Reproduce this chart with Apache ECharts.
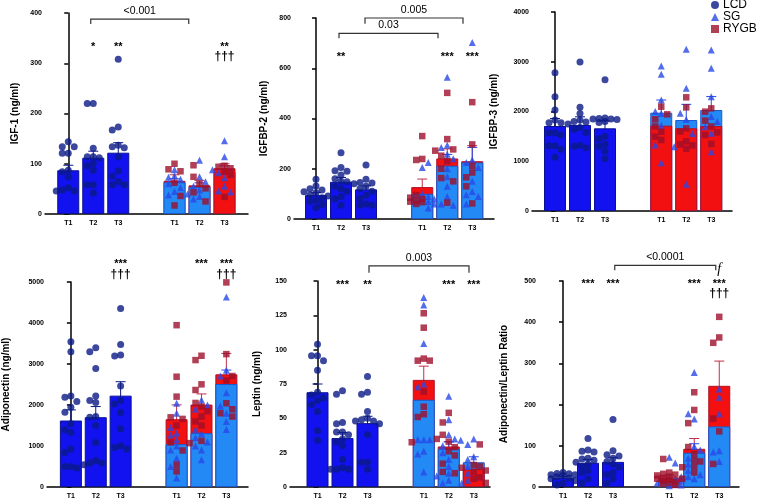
<!DOCTYPE html>
<html>
<head>
<meta charset="utf-8">
<script src="https://cdn.jsdelivr.net/npm/echarts@6/dist/echarts.min.js"></script>
<style>
  html, body { margin: 0; background: #fff; }
  #chart { width: 760px; height: 500px; }
</style>
</head>
<body>
<div id="chart"></div>
<script>
// Column positions on each panel's x value axis: LCD T1-T3, gap, SG/RYGB T1-T3
const xPos = [0, 1, 2, 4.25, 5.25, 6.25];
const xLabels = ['T1', 'T2', 'T3', 'T1', 'T2', 'T3'];

// ---- IGF-1 ----
const igf1LcdMean = [87, 112, 122];
const igf1LcdSem = [10, 13, 20];
const igf1SgMean = [63, 54, 84];
const igf1SgSem = [7, 8, 12];
const igf1RygbMean = [66, 57, 91];
const igf1RygbSem = [12, 10, 9];
const igf1LcdPts = [
  [144, 134, 134, 121, 121, 87, 84, 74, 52, 48, 46, 46],
  [220, 220, 131, 114, 114, 112, 101, 96, 87, 58, 58, 42],
  [308, 173, 167, 137, 134, 132, 114, 86, 75, 64, 58, 58],
];
const igf1SgPts = [[88, 76, 73, 69, 60, 52, 45, 38], [107, 74, 64, 55, 48, 40, 35, 30], [146, 114, 88, 82, 72, 55, 46, 44]];
const igf1RygbPts = [[100, 89, 85, 62, 36, 17], [97, 74, 60, 51, 43, 25], [96, 94, 91, 84, 78, 34]];

// ---- IGFBP-2 ----
const bp2LcdMean = [95, 148, 118];
const bp2LcdSem = [10, 17, 14];
const bp2SgMean = [100, 212, 225];
const bp2SgSem = [18, 45, 60];
const bp2RygbMean = [127, 241, 230];
const bp2RygbSem = [32, 38, 62];
const bp2LcdPts = [
  [158, 131, 120, 115, 108, 104, 96, 92, 85, 75, 70, 58, 45],
  [264, 205, 192, 190, 175, 160, 150, 148, 130, 120, 110, 90, 80, 55],
  [215, 158, 145, 143, 140, 130, 120, 110, 95, 82, 60, 55, 55],
];
const bp2SgPts = [[225, 205, 100, 90, 80, 70, 60, 44], [564, 294, 285, 258, 240, 200, 168, 130, 89, 60, 55], [702, 235, 225, 205, 150, 109, 97, 90, 60]];
const bp2RygbPts = [[330, 239, 235, 95, 85, 80, 72, 69, 67, 60], [502, 318, 277, 272, 252, 230, 200, 163, 150, 65], [465, 297, 211, 185, 166, 130, 62]];

// ---- IGFBP-3 ----
const bp3LcdMean = [1708, 1728, 1662];
const bp3LcdSem = [150, 165, 150];
const bp3SgMean = [1976, 1829, 2030];
const bp3SgSem = [255, 315, 270];
const bp3RygbMean = [1715, 1662, 1708];
const bp3RygbSem = [140, 150, 140];
const bp3LcdPts = [
  [2780, 2298, 2030, 1829, 1775, 1775, 1575, 1575, 1528, 1313, 1313, 1240, 1079],
  [2995, 2083, 1960, 1830, 1800, 1790, 1750, 1680, 1640, 1580, 1320, 1300, 1270],
  [2640, 1870, 1860, 1850, 1850, 1840, 1800, 1780, 1500, 1450, 1340, 1300, 1200, 1050],
];
const bp3SgPts = [[2915, 2747, 2231, 2000, 1960, 1720, 1327, 971], [3250, 2466, 1963, 1840, 1560, 1293, 536], [3235, 2867, 2298, 1900, 1800, 1695, 1561, 1193]];
const bp3RygbPts = [[2097, 1943, 1843, 1700, 1594, 1494, 1427], [2285, 2083, 1662, 1600, 1400, 1340, 1320, 1250], [2063, 1997, 1816, 1700, 1581, 1528, 1347]];

// ---- Adiponectin ----
const adipoLcdMean = [1621, 1702, 2228];
const adipoLcdSem = [260, 260, 340];
const adipoSgMean = [1045, 1313, 2512];
const adipoSgSem = [170, 150, 340];
const adipoRygbMean = [1653, 2010, 2748];
const adipoRygbSem = [350, 260, 510];
const adipoLcdPts = [
  [3541, 3298, 2220, 2188, 2083, 1945, 1823, 1540, 1394, 1329, 924, 843, 502, 502, 462],
  [3395, 3298, 2893, 2220, 2107, 2058, 1718, 1700, 1499, 1086, 648, 583, 583, 543],
  [4352, 3476, 3217, 3193, 2464, 2107, 2026, 1815, 1418, 1005, 964, 924],
];
const adipoSgPts = [[2042, 1800, 1450, 1313, 1270, 1150, 1000, 900, 700, 500, 219], [2123, 2000, 1900, 1394, 1300, 1200, 1100, 1000, 900, 664], [4635, 2850, 2707, 2301, 1977, 1800, 1600, 1400]];
const adipoRygbPts = [[3947, 2690, 2204, 1700, 1661, 1499, 1086, 891, 543, 381], [3201, 3096, 2504, 2366, 2050, 1961, 1850, 1718, 1600, 1499, 1126, 1070], [4990, 3241, 2707, 2600, 2042, 1896, 1799, 1718]];

// ---- Leptin ----
const leptLcdMean = [69, 35.6, 46.5];
const leptLcdSem = [6, 4, 5];
const leptSgMean = [63.5, 27.8, 18];
const leptSgSem = [13, 5, 4];
const leptRygbMean = [78, 29.5, 13];
const leptRygbSem = [10, 3.5, 2.5];
const leptLcdPts = [
  [104, 95.5, 95.5, 92, 85, 69, 67, 65, 63, 60, 55, 41, 34],
  [70, 67.5, 47, 46, 40, 40, 38, 35, 33, 30, 20, 14, 13, 13, 13],
  [80.5, 69, 67.5, 55, 50, 49, 48, 48, 46, 38, 18, 18, 13],
];
const leptSgPts = [[138, 132.5, 104.5, 75, 73, 34.4, 34.4, 34.4, 26, 24, 11], [66, 49, 38, 35, 34, 30, 25, 20, 15, 10, 8, 5, 3], [35, 31, 22, 20, 15, 10, 5, 3]];
const leptRygbPts = [[126.5, 116, 93.5, 92, 92, 69.5, 58.5, 53, 51, 32.6], [54, 47, 38, 35, 33, 29, 26, 23, 17, 11, 10], [31, 16, 15, 14, 12, 11, 7, 6, 3]];

// ---- Adiponectin/Leptin ratio ----
const ratioLcdMean = [22.5, 58.8, 61];
const ratioLcdSem = [3, 8, 10];
const ratioSgMean = [12, 83, 147];
const ratioSgSem = [6, 22, 30];
const ratioRygbMean = [22.6, 92.7, 245.6];
const ratioRygbSem = [6, 25, 60];
const ratioLcdPts = [
  [35, 33, 32, 30, 30, 28, 25, 22, 20, 15, 10, 5],
  [118, 90, 87, 85, 70, 68, 65, 60, 55, 50, 40, 35, 20, 10],
  [164, 88, 78, 75, 70, 62, 55, 48, 35, 30, 20, 10],
];
const ratioSgPts = [[72, 58, 25, 20, 15, 10, 5, 3], [278, 178, 165, 98, 90, 70, 55, 40, 30, 25, 20], [238, 218, 178, 88, 85, 62]];
const ratioRygbPts = [[68, 35, 32, 30, 28, 25, 22, 20, 18, 15, 12, 10, 8, 5], [230, 187, 155, 97, 80, 65, 62, 50, 48, 35, 20], [413, 363, 350, 166, 135, 56]];

// significance marks: [x, y, text]; brackets: [x1, x2, y, drop, text]
const igf1Stars = [[1, 338, '*'], [2, 338, '**'], [6.25, 338, '**'], [6.25, 314, '†††']];
const igf1Brackets = [[0.9, 4.82, 388, 10, '<0.001']];
const bp2Stars = [[1, 655, '**'], [5.25, 655, '***'], [6.25, 655, '***']];
const bp2Brackets = [[0.92, 4.88, 739, 20, '0.03'], [1.96, 5.88, 800, 23, '0.005']];
const adipoStars = [[2, 5503, '***'], [2, 5187, '†††'], [5.25, 5503, '***'], [6.25, 5503, '***'], [6.25, 5187, '†††']];
const leptStars = [[1, 149.5, '***'], [2, 149.5, '**'], [5.25, 149.5, '***'], [6.25, 149.5, '***']];
const leptBrackets = [[2.06, 6.06, 161, 5, '0.003']];
const ratioStars = [[1, 500, '***'], [2, 500, '***'], [5.25, 500, '***'], [6.25, 500, '***'], [6.25, 470, '†††'], [6.25, 528, 'f']];
const ratioBrackets = [[2.07, 6.11, 538, 12, '<0.0001']];

const FONT = '"Liberation Sans", Arial, sans-serif';
const C = {
  lcdBar: '#1212f0', lcdEdge: '#0a1290', lcdPt: '#0b1a86', lcdErr: '#0b1a86',
  sgBar: '#2389f5', sgEdge: '#1a5ad0', sgPt: '#2848e6', sgErr: '#2848e6',
  rygbBar: '#f21010', rygbEdge: '#b0102a', rygbPt: '#9e0f2b', rygbErr: '#c0304a',
};
const PX_PER_COL = 25;

// grid: [left, top, width, height]
const PANELS = [
  { name: 'IGF-1 (ng/ml)', max: 400, step: 100, grid: [45, 13, 203, 201], xMin: -0.93, nameGap: 25,
    lcd: [igf1LcdMean, igf1LcdSem, igf1LcdPts], sg: [igf1SgMean, igf1SgSem, igf1SgPts], rygb: [igf1RygbMean, igf1RygbSem, igf1RygbPts],
    front: ['sg', 'sg', 'rygb'], stars: igf1Stars, brackets: igf1Brackets },
  { name: 'IGFBP-2 (ng/ml)', max: 800, step: 200, grid: [294, 18, 200, 201], xMin: -0.88, nameGap: 25,
    lcd: [bp2LcdMean, bp2LcdSem, bp2LcdPts], sg: [bp2SgMean, bp2SgSem, bp2SgPts], rygb: [bp2RygbMean, bp2RygbSem, bp2RygbPts],
    front: ['sg', 'sg', 'sg'], stars: bp2Stars, brackets: bp2Brackets },
  { name: 'IGFBP-3 (ng/ml)', max: 4000, step: 1000, grid: [532, 12, 200, 199], xMin: -0.92, nameGap: 33,
    lcd: [bp3LcdMean, bp3LcdSem, bp3LcdPts], sg: [bp3SgMean, bp3SgSem, bp3SgPts], rygb: [bp3RygbMean, bp3RygbSem, bp3RygbPts],
    front: ['rygb', 'rygb', 'rygb'], stars: [], brackets: [] },
  { name: 'Adiponectin (ng/ml)', max: 5000, step: 1000, grid: [46, 282, 202, 205], xMin: -0.96, nameGap: 36,
    lcd: [adipoLcdMean, adipoLcdSem, adipoLcdPts], sg: [adipoSgMean, adipoSgSem, adipoSgPts], rygb: [adipoRygbMean, adipoRygbSem, adipoRygbPts],
    front: ['sg', 'sg', 'sg'], stars: adipoStars, brackets: [] },
  { name: 'Leptin (ng/ml)', max: 150, step: 25, grid: [290, 281, 200, 206], xMin: -1.1, nameGap: 28,
    lcd: [leptLcdMean, leptLcdSem, leptLcdPts], sg: [leptSgMean, leptSgSem, leptSgPts], rygb: [leptRygbMean, leptRygbSem, leptRygbPts],
    front: ['sg', 'sg', 'rygb'], stars: leptStars, brackets: leptBrackets },
  { name: 'Adiponectin/Leptin Ratio', max: 500, step: 100, grid: [539, 281, 200, 207], xMin: -0.96, nameGap: 30,
    lcd: [ratioLcdMean, ratioLcdSem, ratioLcdPts], sg: [ratioSgMean, ratioSgSem, ratioSgPts], rygb: [ratioRygbMean, ratioRygbSem, ratioRygbPts],
    front: ['sg', 'sg', 'sg'], stars: ratioStars, brackets: ratioBrackets },
];

// spread overlapping dots sideways (GraphPad-like), returns px offsets
function swarm(values, pxPerY, step) {
  const off = values.map(() => 0);
  const placed = [];
  const order = values.map((v, i) => i).sort((a, b) => values[b] - values[a]);
  const cands = [0, -1, 1, -2, 2];
  order.forEach((i) => {
    const y = values[i] * pxPerY;
    let best = 0, bestD = -1;
    for (const c of cands) {
      const x = c * step;
      let dmin = Infinity;
      placed.forEach((p) => { dmin = Math.min(dmin, Math.hypot(p[0] - x, p[1] - y)); });
      if (dmin >= step) { best = x; break; }
      if (dmin > bestD) { bestD = dmin; best = x; }
    }
    off[i] = best;
    placed.push([best, y]);
  });
  return off;
}

const option = {
  animation: false,
  textStyle: { fontFamily: FONT },
  legend: {
    orient: 'vertical', left: 711, top: -1, padding: 0, itemGap: 0,
    itemWidth: 8, itemHeight: 8,
    textStyle: { fontSize: 12, color: '#000', fontFamily: FONT, padding: [0, 0, 0, -1], lineHeight: 11 },
    data: [{ name: 'LCD', icon: 'circle' }, { name: 'SG', icon: 'triangle' }, { name: 'RYGB', icon: 'rect' }],
    selectedMode: false,
  },
  grid: [], xAxis: [], yAxis: [], series: [],
};

PANELS.forEach((P, i) => {
  const [gl, gt, gw, gh] = P.grid;
  const xMax = P.xMin + gw / PX_PER_COL;
  const pxPerY = gh / P.max;
  option.grid.push({ left: gl, top: gt, width: gw, height: gh });
  option.xAxis.push({
    gridIndex: i, type: 'value', min: P.xMin, max: xMax,
    axisLine: { show: true, onZero: false, lineStyle: { color: '#000', width: 1.5 } },
    axisTick: { show: false }, splitLine: { show: false },
    axisLabel: {
      customValues: xPos, fontSize: 7, fontWeight: 'bold', color: '#000', margin: 6,
      formatter: (v) => xLabels[xPos.findIndex((p) => Math.abs(p - v) < 1e-6)] || '',
    },
  });
  option.yAxis.push({
    gridIndex: i, type: 'value', min: 0, max: P.max, interval: P.step,
    name: P.name, nameLocation: 'middle', nameGap: P.nameGap,
    nameTextStyle: { fontWeight: 'bold', fontSize: 10, color: '#000', fontFamily: FONT },
    axisLine: { show: true, lineStyle: { color: '#000', width: 1.5 } },
    axisTick: { show: true, length: 4, lineStyle: { color: '#000', width: 1.5 } },
    axisLabel: { fontSize: 7, fontWeight: 'bold', color: '#000', margin: 3, formatter: (v) => String(v) },
    splitLine: { show: false },
  });
  const ax = { xAxisIndex: i, yAxisIndex: i };
  const groups = {
    lcd: { mean: P.lcd[0], sem: P.lcd[1], pts: P.lcd[2] },
    sg: { mean: P.sg[0], sem: P.sg[1], pts: P.sg[2] },
    rygb: { mean: P.rygb[0], sem: P.rygb[1], pts: P.rygb[2] },
  };
  const barStyle = {
    lcd: { color: C.lcdBar, borderColor: C.lcdEdge, borderWidth: 1 },
    sg: { color: C.sgBar, borderColor: C.sgEdge, borderWidth: 1 },
    rygb: { color: C.rygbBar, borderColor: C.rygbEdge, borderWidth: 1 },
  };

  // bars
  option.series.push({
    type: 'bar', ...ax, barWidth: 22, barGap: '-100%', silent: true,
    data: groups.lcd.mean.map((v, k) => [xPos[k], v]), itemStyle: barStyle.lcd,
  });
  const other = (g) => (g === 'sg' ? 'rygb' : 'sg');
  option.series.push({
    type: 'bar', ...ax, barWidth: 22, barGap: '-100%', silent: true,
    data: P.front.map((f, k) => ({ value: [xPos[3 + k], groups[other(f)].mean[k]], itemStyle: barStyle[other(f)] })),
  });
  option.series.push({
    type: 'bar', ...ax, barWidth: 22, barGap: '-100%', silent: true,
    data: P.front.map((f, k) => ({ value: [xPos[3 + k], groups[f].mean[k]], itemStyle: barStyle[f] })),
  });

  // dots
  const lcdDots = [], sgDots = [], rygbDots = [];
  for (let k = 0; k < 3; k++) {
    const a = groups.lcd.pts[k];
    swarm(a, pxPerY, 6).forEach((o, j) => lcdDots.push([xPos[k] + o / PX_PER_COL, a[j]]));
    const s = groups.sg.pts[k], r = groups.rygb.pts[k];
    const offs = swarm(s.concat(r), pxPerY, 6);
    s.forEach((v, j) => sgDots.push([xPos[3 + k] + offs[j] / PX_PER_COL, v]));
    r.forEach((v, j) => rygbDots.push([xPos[3 + k] + offs[s.length + j] / PX_PER_COL, v]));
  }
  option.series.push({ name: 'LCD', type: 'scatter', ...ax, clip: false, symbol: 'circle', symbolSize: 7, data: lcdDots, itemStyle: { color: C.lcdPt } });
  option.series.push({ name: 'SG', type: 'scatter', ...ax, clip: false, symbol: 'triangle', symbolSize: 7, data: sgDots, itemStyle: { color: C.sgPt } });
  option.series.push({ name: 'RYGB', type: 'scatter', ...ax, clip: false, symbol: 'rect', symbolSize: 6.5, data: rygbDots, itemStyle: { color: C.rygbPt } });

  // error bars (mean ± SEM)
  const errs = [];
  for (let k = 0; k < 3; k++) {
    errs.push({ x: xPos[k], m: groups.lcd.mean[k], s: groups.lcd.sem[k], c: C.lcdErr });
    const b = other(P.front[k]), f = P.front[k];
    [b, f].forEach((g) => errs.push({ x: xPos[3 + k], m: groups[g].mean[k], s: groups[g].sem[k], c: C[g + 'Err'] }));
  }
  option.series.push({
    type: 'custom', ...ax, silent: true,
    data: errs.map((e) => [e.x, e.m - e.s, e.m + e.s]),
    renderItem: (params, api) => {
      const x = api.value(0);
      const lo = api.coord([x, api.value(1)]);
      const hi = api.coord([x, api.value(2)]);
      const st = { stroke: errs[params.dataIndex].c, lineWidth: 1 };
      return {
        type: 'group', children: [
          { type: 'line', shape: { x1: lo[0], y1: lo[1], x2: hi[0], y2: hi[1] }, style: st },
          { type: 'line', shape: { x1: hi[0] - 5, y1: hi[1], x2: hi[0] + 5, y2: hi[1] }, style: st },
          { type: 'line', shape: { x1: lo[0] - 5, y1: lo[1], x2: lo[0] + 5, y2: lo[1] }, style: st },
        ],
      };
    },
  });

  // significance marks
  if (P.stars.length) {
    option.series.push({
      type: 'custom', ...ax, silent: true,
      data: P.stars.map((s) => [s[0], s[1]]),
      renderItem: (params, api) => {
        const p = api.coord([api.value(0), api.value(1)]);
        const t = P.stars[params.dataIndex][2];
        let font = 'bold 11px ' + FONT, dy = 3;
        if (t.indexOf('†') >= 0) { font = 'bold 12px ' + FONT; dy = 0; }
        if (t === 'f') { font = 'italic 14px "Liberation Serif", "DejaVu Serif", serif'; dy = 0; }
        return { type: 'text', x: p[0], y: p[1] + dy, style: { text: t, font, fill: '#000', align: 'center', verticalAlign: 'middle' } };
      },
    });
  }
  if (P.brackets.length) {
    option.series.push({
      type: 'custom', ...ax, silent: true,
      data: P.brackets.map((b) => [b[0], b[1], b[2], b[3]]),
      renderItem: (params, api) => {
        const b = P.brackets[params.dataIndex];
        const a1 = api.coord([b[0], b[2]]), a2 = api.coord([b[1], b[2]]);
        const d1 = api.coord([b[0], b[2] - b[3]]);
        const drop = d1[1] - a1[1];
        return {
          type: 'group', children: [
            { type: 'polyline', shape: { points: [[a1[0], a1[1] + drop], a1, a2, [a2[0], a2[1] + drop]] },
              style: { stroke: '#333', lineWidth: 1.2, fill: null } },
            { type: 'text', x: (a1[0] + a2[0]) / 2, y: a1[1] - 8,
              style: { text: b[4], font: '10.5px ' + FONT, fill: '#000', align: 'center', verticalAlign: 'middle' } },
          ],
        };
      },
    });
  }
});

const chart = echarts.init(document.getElementById('chart'), null, { renderer: 'canvas' });
chart.setOption(option);
</script>
</body>
</html>
